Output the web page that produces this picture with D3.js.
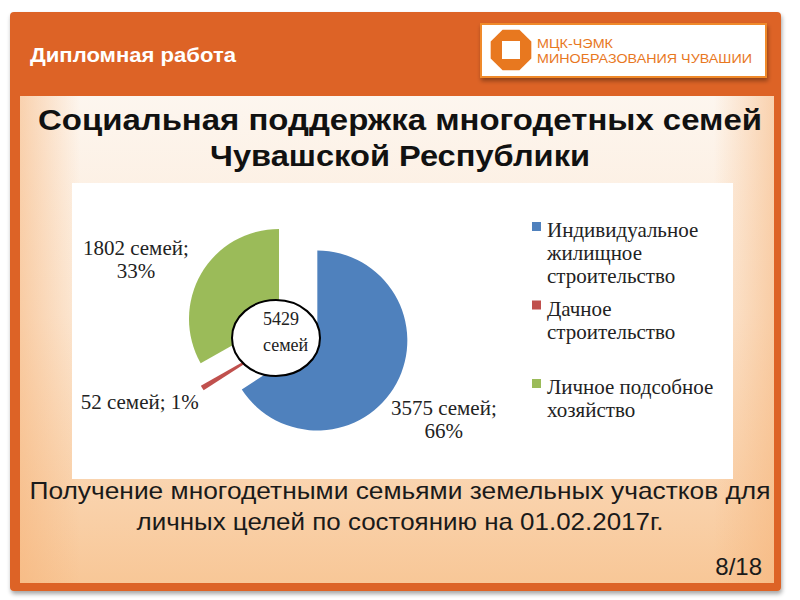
<!DOCTYPE html>
<html>
<head>
<meta charset="utf-8">
<script src="https://cdn.jsdelivr.net/npm/d3@7"></script>
<style>
  body { margin: 0; background: #fff; }
  svg { display: block; }
</style>
</head>
<body>
<svg id="slide"></svg>
<script>
const categories = [
  "Индивидуальное жилищное строительство",
  "Дачное строительство",
  "Личное подсобное хозяйство"
];
const families = [3575, 52, 1802];
const sliceColors = ["#4f81bd", "#c0504d", "#9bbb59"];

const headerText = "Дипломная работа";
const logoLines = ["МЦК-ЧЭМК", "МИНОБРАЗОВАНИЯ ЧУВАШИИ"];
const titleLines = ["Социальная поддержка многодетных семей", "Чувашской Республики"];
const captionLines = [
  "Получение многодетными семьями земельных участков для",
  "личных целей по состоянию на 01.02.2017г."
];
const pageLabel = "8/18";

const width = 800;
const height = 600;
const orange = "#dd6426";
const sans = "Liberation Sans, Arial, sans-serif";
const serif = "Liberation Serif, Times New Roman, serif";

const svg = d3.select("#slide").attr("width", width).attr("height", height);
const defs = svg.append("defs");

const grad = defs.append("linearGradient")
  .attr("id", "panelGrad").attr("x1", 0).attr("y1", 0).attr("x2", 0).attr("y2", 1);
grad.append("stop").attr("offset", "0%").attr("stop-color", "#fdf6ef");
grad.append("stop").attr("offset", "45%").attr("stop-color", "#fce9d6");
grad.append("stop").attr("offset", "100%").attr("stop-color", "#f8c797");

const sideGrad = defs.append("linearGradient")
  .attr("id", "sideGrad").attr("x1", 0).attr("y1", 0).attr("x2", 1).attr("y2", 0);
sideGrad.append("stop").attr("offset", "0%").attr("stop-color", "#f6b47a").attr("stop-opacity", 0.55);
sideGrad.append("stop").attr("offset", "8%").attr("stop-color", "#f6b47a").attr("stop-opacity", 0);
sideGrad.append("stop").attr("offset", "92%").attr("stop-color", "#f6b47a").attr("stop-opacity", 0);
sideGrad.append("stop").attr("offset", "100%").attr("stop-color", "#f6b47a").attr("stop-opacity", 0.55);

const shadow = defs.append("filter").attr("id", "shadow")
  .attr("x", "-5%").attr("y", "-5%").attr("width", "115%").attr("height", "130%");
shadow.append("feDropShadow").attr("dx", 1).attr("dy", 3).attr("stdDeviation", 2)
  .attr("flood-color", "#000").attr("flood-opacity", 0.35);

// slide frame
svg.append("rect")
  .attr("x", 10).attr("y", 12).attr("width", 771).attr("height", 579)
  .attr("rx", 4).attr("fill", orange).attr("filter", "url(#shadow)");
svg.append("rect")
  .attr("x", 20).attr("y", 96).attr("width", 754).attr("height", 487)
  .attr("fill", "url(#panelGrad)");
svg.append("rect")
  .attr("x", 20).attr("y", 96).attr("width", 754).attr("height", 487)
  .attr("fill", "url(#sideGrad)");

svg.append("text")
  .attr("x", 30).attr("y", 62)
  .attr("font-family", sans)
  .attr("font-weight", "bold").attr("font-size", 20)
  .attr("fill", "#fff")
  .attr("textLength", 206).attr("lengthAdjust", "spacingAndGlyphs")
  .text(headerText);

// logo
const logo = svg.append("g");
logo.append("rect")
  .attr("x", 481).attr("y", 24).attr("width", 285).attr("height", 53)
  .attr("fill", "#fff").attr("stroke", "#f08a2c").attr("stroke-width", 2)
  .attr("filter", "url(#shadow)");
const octR = 22;
const octPts = d3.range(8).map((i) => {
  const a = Math.PI / 8 + (i * Math.PI) / 4;
  return [511 + octR * Math.cos(a), 50 + octR * Math.sin(a)];
});
logo.append("polygon").attr("points", octPts.map((p) => p.join(",")).join(" "))
  .attr("fill", "#e8781f");
logo.append("rect")
  .attr("x", 502).attr("y", 41).attr("width", 18).attr("height", 18)
  .attr("fill", "#fff");
logo.selectAll("text.logo")
  .data(logoLines)
  .enter()
  .append("text")
  .attr("class", "logo")
  .attr("x", 537)
  .attr("y", (d, i) => 48 + i * 15)
  .attr("font-family", sans)
  .attr("font-size", 13)
  .attr("fill", "#e8781f")
  .attr("textLength", (d, i) => (i === 0 ? 76 : 215))
  .attr("lengthAdjust", "spacingAndGlyphs")
  .text((d) => d);

// title
svg.selectAll("text.title")
  .data(titleLines)
  .enter()
  .append("text")
  .attr("class", "title")
  .attr("x", 400)
  .attr("y", (d, i) => 130 + i * 36)
  .attr("text-anchor", "middle")
  .attr("font-family", sans)
  .attr("font-weight", "bold")
  .attr("font-size", 29)
  .attr("fill", "#111")
  .attr("textLength", (d, i) => (i === 0 ? 724 : 380))
  .attr("lengthAdjust", "spacingAndGlyphs")
  .text((d) => d);

// chart area
svg.append("rect")
  .attr("x", 72).attr("y", 183).attr("width", 661).attr("height", 296)
  .attr("fill", "#fff");

const total = d3.sum(families);
const radius = 90;
const explode = 22;
const cx = 298;
const cy = 330;

const pie = d3.pie().sort(null).value((d) => d);
const arcs = pie(families);
const arc = d3.arc().innerRadius(0).outerRadius(radius);

const dirOf = (d) => {
  const mid = (d.startAngle + d.endAngle) / 2;
  return [Math.sin(mid), -Math.cos(mid)];
};

const chart = svg.append("g").attr("transform", `translate(${cx},${cy})`);

chart.selectAll("path.slice")
  .data(arcs)
  .enter()
  .append("path")
  .attr("class", "slice")
  .attr("transform", (d) => {
    const [dx, dy] = dirOf(d);
    return `translate(${dx * explode},${dy * explode})`;
  })
  .attr("d", arc)
  .attr("fill", (d, i) => sliceColors[i]);

// data labels, box corner placed just outside the exploded slice
const fmtPct = (v) => Math.round((v / total) * 100) + "%";
const labelG = chart.selectAll("g.label")
  .data(arcs)
  .enter()
  .append("g")
  .attr("class", "label");

labelG.each(function (d) {
  const g = d3.select(this);
  const small = d.value / total < 0.05;
  const lines = small
    ? [`${d.value} семей; ${fmtPct(d.value)}`]
    : [`${d.value} семей;`, fmtPct(d.value)];
  const t = g.append("text")
    .attr("font-family", serif)
    .attr("font-size", 21)
    .attr("fill", "#222")
    .attr("text-anchor", "middle");
  lines.forEach((line, i) => {
    t.append("tspan").attr("x", 0).attr("y", i * 23).text(line);
  });
  const box = t.node().getBBox();
  const [dx, dy] = dirOf(d);
  const ax = dx * (explode + radius + 4);
  const ay = dy * (explode + radius + 4);
  let bx = dx >= 0 ? ax - box.x : ax - (box.x + box.width);
  let by = dy >= 0 ? ay - box.y : ay - (box.y + box.height);
  if (lines.length > 1) {
    bx -= 9;
    by += 11;
  }
  g.attr("transform", `translate(${bx},${by})`);
});

// total in the centre
const centre = chart.append("g").attr("transform", "translate(-22,8)");
centre.append("ellipse")
  .attr("rx", 44).attr("ry", 38)
  .attr("fill", "#fff").attr("stroke", "#000").attr("stroke-width", 2);
centre.selectAll("text")
  .data([String(total), "семей"])
  .enter()
  .append("text")
  .attr("x", -13)
  .attr("y", (d, i) => -13 + i * 26)
  .attr("font-family", serif)
  .attr("font-size", 18)
  .attr("fill", "#222")
  .text((d) => d);

// legend with wrapping
const legend = svg.append("g").attr("transform", "translate(532,0)");
const legendItems = legend.selectAll("g.item")
  .data(categories)
  .enter()
  .append("g")
  .attr("class", "item")
  .attr("transform", (d, i) => `translate(0,${237 + i * 78.5})`);

legendItems.append("rect")
  .attr("x", 0).attr("y", -15).attr("width", 9).attr("height", 9)
  .attr("fill", (d, i) => sliceColors[i]);

legendItems.each(function (d) {
  const t = d3.select(this).append("text")
    .attr("font-family", serif)
    .attr("font-size", 21)
    .attr("fill", "#222");
  const words = d.split(" ");
  let lineNo = 0;
  let tspan = t.append("tspan").attr("x", 15).attr("y", 0);
  let current = [];
  words.forEach((w) => {
    current.push(w);
    tspan.text(current.join(" "));
    if (tspan.node().getComputedTextLength() > 180 && current.length > 1) {
      current.pop();
      tspan.text(current.join(" "));
      current = [w];
      lineNo += 1;
      tspan = t.append("tspan").attr("x", 15).attr("y", lineNo * 23).text(w);
    }
  });
});

// caption
svg.selectAll("text.caption")
  .data(captionLines)
  .enter()
  .append("text")
  .attr("class", "caption")
  .attr("x", 400)
  .attr("y", (d, i) => 499 + i * 31)
  .attr("text-anchor", "middle")
  .attr("font-family", sans)
  .attr("font-size", 24)
  .attr("fill", "#1a1a1a")
  .attr("textLength", (d, i) => (i === 0 ? 741 : 527))
  .attr("lengthAdjust", "spacingAndGlyphs")
  .text((d) => d);

svg.append("text")
  .attr("x", 762).attr("y", 575)
  .attr("text-anchor", "end")
  .attr("font-family", sans)
  .attr("font-size", 24)
  .attr("fill", "#1a1a1a")
  .text(pageLabel);
</script>
</body>
</html>
